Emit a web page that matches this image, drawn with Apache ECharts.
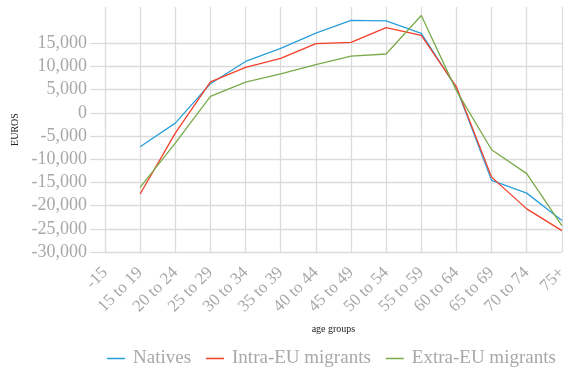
<!DOCTYPE html>
<html>
<head>
<meta charset="utf-8">
<script src="https://cdn.jsdelivr.net/npm/echarts@6/dist/echarts.min.js"></script>
<style>
  html, body { margin: 0; padding: 0; background: #ffffff; }
  #chart { width: 570px; height: 371px; }
</style>
</head>
<body>
<div id="chart"></div>
<script>
// Age groups on the category axis
const ageGroups = ['-15', '15 to 19', '20 to 24', '25 to 29', '30 to 34', '35 to 39',
  '40 to 44', '45 to 49', '50 to 54', '55 to 59', '60 to 64', '65 to 69', '70 to 74', '75+'];

// Net fiscal position per person, euros
const natives = [null, -7300, -2200, 6300, 11100, 13900, 17200, 19950, 19850, 17150, 5400, -14550, -17300, -23200];
const intraEU = [null, -17500, -4350, 6700, 9800, 11750, 14950, 15200, 18400, 16700, 5600, -13850, -20700, -25400];
const extraEU = [null, -16050, -6500, 3550, 6650, 8400, 10400, 12250, 12700, 21000, 4800, -7950, -13100, -24300];

// Labelled values on the euro axis
const yTicks = [-30000, -25000, -20000, -15000, -10000, -5000, 0, 5000, 10000, 15000];

const gridColor = '#dcdcdc';
const labelColor = '#a8a8a8';
const serif = 'Liberation Serif';

const chart = echarts.init(document.getElementById('chart'), null, { renderer: 'canvas' });

function lineSeries(name, data, color) {
  return {
    name: name,
    type: 'line',
    data: data,
    symbol: 'none',
    connectNulls: false,
    lineStyle: { color: color, width: 1.3 },
    itemStyle: { color: color },
    emphasis: { disabled: true }
  };
}

chart.setOption({
  animation: false,
  backgroundColor: '#ffffff',
  textStyle: { fontFamily: serif },
  grid: { left: 105, top: 7, width: 466, height: 245, containLabel: false },
  xAxis: {
    type: 'category',
    data: ageGroups,
    boundaryGap: false,
    name: 'age groups',
    nameLocation: 'middle',
    nameGap: 72,
    nameTextStyle: { fontFamily: serif, fontSize: 10, color: '#222' },
    axisLine: { show: false },
    axisTick: { show: true, length: 13, lineStyle: { color: gridColor, width: 1.3 } },
    axisLabel: {
      rotate: 45, margin: 18, interval: 0,
      fontFamily: serif, fontSize: 17, color: labelColor
    },
    splitLine: { show: true, lineStyle: { color: gridColor, width: 1.3 } }
  },
  yAxis: {
    type: 'value',
    min: -30000,
    max: 22840,
    name: 'EUROS',
    nameLocation: 'middle',
    nameRotate: 90,
    nameGap: 83,
    nameTextStyle: { fontFamily: serif, fontSize: 10, color: '#222' },
    axisLine: { show: false },
    axisTick: { show: true, length: 15, customValues: yTicks, lineStyle: { color: gridColor, width: 1.3 } },
    axisLabel: {
      customValues: yTicks,
      margin: 18,
      fontFamily: serif, fontSize: 18, color: labelColor,
      formatter: function (v) { return v.toLocaleString('en-US'); }
    },
    splitLine: { show: true, lineStyle: { color: gridColor, width: 1.3 } }
  },
  legend: {
    left: 102,
    top: 344,
    icon: 'rect',
    itemWidth: 18,
    itemHeight: 1.5,
    itemGap: 15,
    textStyle: { fontFamily: serif, fontSize: 19, color: labelColor, padding: [0, 0, 0, 3] },
    data: ['Natives', 'Intra-EU migrants', 'Extra-EU migrants']
  },
  series: [
    lineSeries('Natives', natives, '#2a9fdc'),
    lineSeries('Intra-EU migrants', intraEU, '#f4402a'),
    lineSeries('Extra-EU migrants', extraEU, '#7aab4a')
  ]
});
</script>
</body>
</html>
